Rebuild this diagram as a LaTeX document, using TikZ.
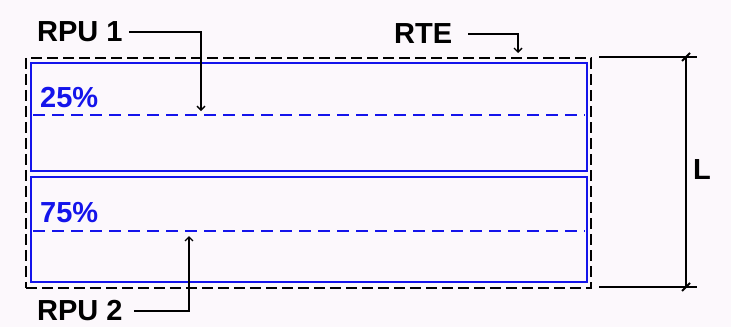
\documentclass[tikz,border=0pt]{standalone}
\usepackage{fontspec}
\setmainfont{Liberation Sans}
\usetikzlibrary{arrows.meta}
\definecolor{rpublue}{RGB}{20,20,235}
\definecolor{paper}{RGB}{252,248,252}

\begin{document}
\begin{tikzpicture}[x=1pt, y=-1pt,
    label text/.style={font=\fontsize{29}{34}\selectfont\bfseries, inner sep=0pt},
    pct text/.style={label text, text=rpublue},
    rte box/.style={draw, dash pattern=on 11pt off 5pt, line width=1.8pt, inner sep=0pt},
    rpu box/.style={draw=rpublue, line width=1.8pt, inner sep=0pt},
    level line/.style={draw=rpublue, dash pattern=on 12pt off 7pt, line width=1.8pt},
    pointer/.style={line width=1.4pt, -{Straight Barb[length=4pt,width=8pt]}},
    dim line/.style={line width=1.5pt},
    tick/.style={line width=1.8pt}]

  \fill[paper] (0,0) rectangle (731,327);
  \useasboundingbox (0,0) rectangle (731,327);

  % boxes
  \node[rte box, minimum width=565pt, minimum height=230pt, anchor=north west] (rte) at (25,57) {};
  \node[rpu box, minimum width=556pt, minimum height=108pt, anchor=north west] (rpu1) at (30,62) {};
  \node[rpu box, minimum width=556pt, minimum height=105pt, anchor=north west] (rpu2) at (30,176) {};

  % levels
  \draw[level line] ([xshift=3pt,yshift=-53pt]rpu1.north west) -- ([xshift=-3pt,yshift=-53pt]rpu1.north east);
  \draw[level line] ([xshift=3pt,yshift=-55pt]rpu2.north west) -- ([xshift=-3pt,yshift=-55pt]rpu2.north east);
  \node[pct text, anchor=west] (pct1) at (40,98) {25\%};
  \node[pct text, anchor=west] (pct2) at (40,213) {75\%};

  % labels
  \node[label text, anchor=west] (rpu1 label) at (37,32) {RPU 1};
  \node[label text, anchor=west] (rte label) at (394,34) {RTE};
  \node[label text, anchor=west] (rpu2 label) at (37,311) {RPU 2};
  \node[label text, anchor=west] (len label) at (693,170) {L};

  \coordinate (p1) at (201,111);
  \coordinate (p2) at (518,53);
  \coordinate (p3) at (189,236);
  \draw[pointer] ([xshift=6pt]rpu1 label.east) -| (p1);
  \draw[pointer] ([xshift=16pt]rte label.east) -| (p2);
  \draw[pointer] ([xshift=11pt]rpu2 label.east) -| (p3);

  % dimension L
  \coordinate (dimtop) at (686,57);
  \coordinate (dimbot) at (686,287);
  \draw[dim line] (599,57) -- ([xshift=11pt]dimtop);
  \draw[dim line] (599,287) -- ([xshift=11pt]dimbot);
  \draw[dim line] (dimtop) -- (dimbot);
  \draw[tick] ([shift={(-4,4)}]dimtop) -- ([shift={(4,-4)}]dimtop);
  \draw[tick] ([shift={(-4,4)}]dimbot) -- ([shift={(4,-4)}]dimbot);
\end{tikzpicture}
\end{document}
